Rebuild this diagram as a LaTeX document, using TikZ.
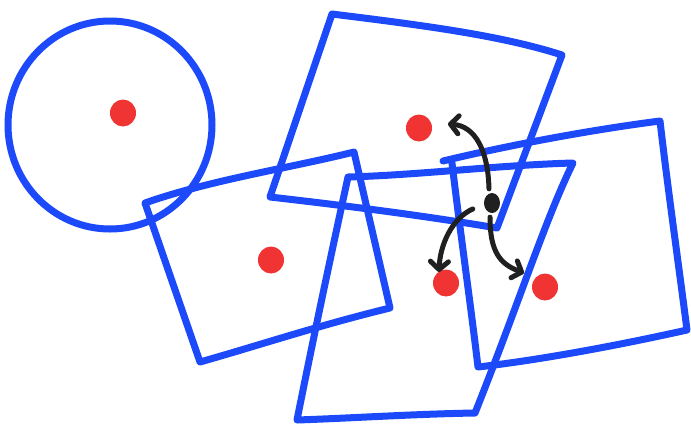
\documentclass[tikz,border=0pt]{standalone}
\usetikzlibrary{arrows.meta,shapes.geometric}
\definecolor{sketchblue}{RGB}{28,74,250}
\definecolor{dotred}{RGB}{240,52,52}
\definecolor{inkblack}{RGB}{32,32,32}
\tikzset{
  shapeline/.style={draw=sketchblue,line width=7pt,line join=round,line cap=round},
  reddot/.style={ellipse,fill=dotred,inner sep=0pt,minimum width=26pt,minimum height=27pt},
  blackdot/.style={ellipse,fill=inkblack,inner sep=0pt,minimum width=16pt,minimum height=20pt},
  pointer/.style={draw=inkblack,line width=5pt,line cap=round,
    -{Straight Barb[length=8pt,width=18pt,line join=round,line cap=round]}}
}
\begin{document}
\begin{tikzpicture}[x=1pt,y=-1pt]
\useasboundingbox (0,0) rectangle (691,432);
% circle
\draw[shapeline] (110,125) ellipse [x radius=102, y radius=104];
% top square
\draw[shapeline] (332,14) .. controls (420,25) and (500,35) .. (562,55)
  -- (497,228) .. controls (420,215) and (340,205) .. (270,197) -- cycle;
% left-middle square
\draw[shapeline] (145,203) .. controls (210,180) and (290,168) .. (354,152)
  -- (390,308) .. controls (320,325) and (260,345) .. (200,362) -- cycle;
% tall middle quadrilateral
\draw[shapeline] (348,177) .. controls (420,175) and (500,165) .. (573,163)
  .. controls (545,220) and (520,300) .. (475,413)
  .. controls (415,414) and (355,418) .. (297,420)
  .. controls (315,330) and (330,260) .. (348,177);
% right square
\draw[shapeline] (443,161) .. controls (510,145) and (590,130) .. (660,121)
  .. controls (668,190) and (678,260) .. (687,330)
  .. controls (620,345) and (540,360) .. (478,367)
  .. controls (470,300) and (460,230) .. (452,163);
% red dots
\node[reddot] (c1) at (123,113) {};
\node[reddot] (c2) at (271,260) {};
\node[reddot] (c3) at (419,128) {};
\node[reddot] (c4) at (446,283) {};
\node[reddot] (c5) at (545,287) {};
% black dot
\node[blackdot] (p) at (492,203) {};
\coordinate (t1) at (448,124);
\coordinate (t2) at (439,272);
\coordinate (t3) at (524,273);
\draw[pointer] (p.north) ++(-3,-4) .. controls (488,150) and (475,126) .. (t1);
\draw[pointer] (p.west) ++(-11,6) .. controls (452,218) and (440,245) .. (t2);
\draw[pointer] (p.south) ++(-2,4) .. controls (490,252) and (500,264) .. (t3);
\end{tikzpicture}
\end{document}
